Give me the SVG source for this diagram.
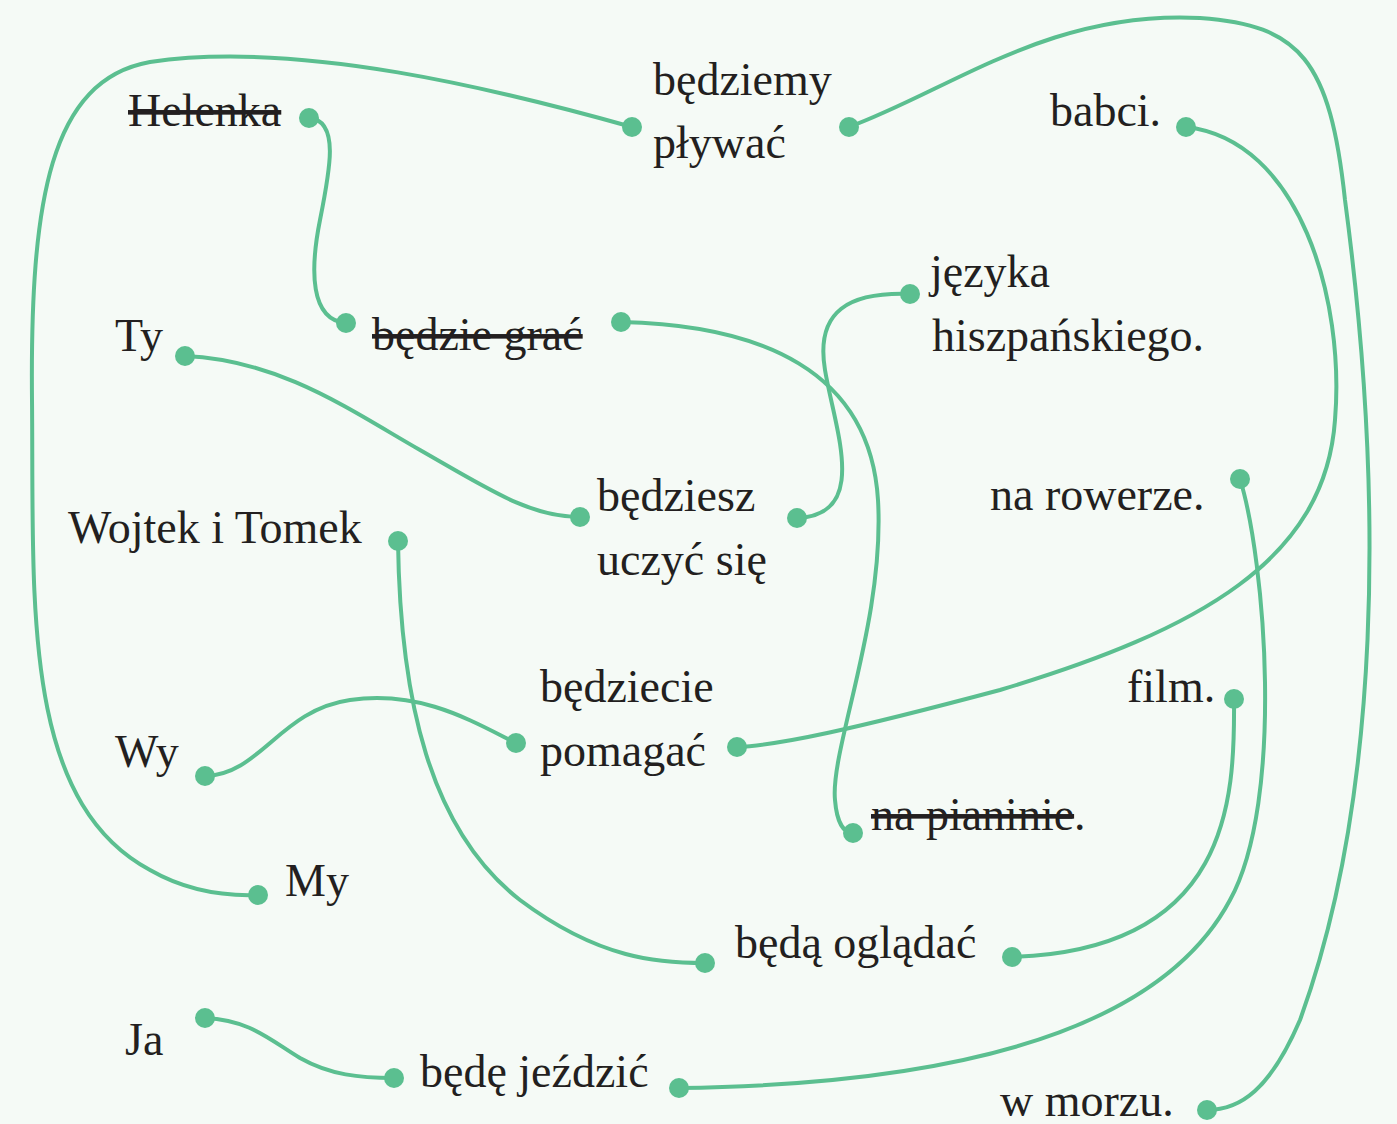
<svg xmlns="http://www.w3.org/2000/svg" width="1397" height="1124" viewBox="0 0 1397 1124">
<style>
text{font-family:"Liberation Serif","DejaVu Serif",serif;font-size:46px;fill:#231f20}
.s{text-decoration:line-through}
.c path{fill:none;stroke:#5bbf90;stroke-width:4;stroke-linecap:round}
.d{fill:#5bbf90}
</style>
<rect width="1397" height="1124" fill="#f5faf6"/>
<g class="c" id="connectors">
<path d="M309,118 C340,120 330,170 320,220 C310,270 310,320 346,323"/>
<path d="M632,127 C500,90 300,40 150,62 C50,80 30,200 32,400 C34,600 20,800 150,870 C190,893 230,896 258,895"/>
<path d="M849,127 C950,90 1050,10 1200,18 C1300,25 1330,60 1345,200 C1385,500 1380,800 1300,1020 C1270,1090 1240,1110 1207,1110"/>
<path d="M1186,127 C1300,140 1345,300 1335,420 C1325,560 1200,630 1000,690 C850,730 780,745 737,747"/>
<path d="M910,294 C850,292 815,310 825,370 C835,430 870,515 797,518"/>
<path d="M185,356 C280,360 350,410 420,450 C490,490 530,517 580,517"/>
<path d="M621,322 C760,325 870,370 878,500 C885,620 830,750 835,800 C837,825 845,833 853,833"/>
<path d="M398,541 C400,700 430,830 520,900 C600,960 660,963 705,963"/>
<path d="M205,776 C260,775 280,710 350,700 C420,690 470,720 516,743"/>
<path d="M1234,699 C1235,800 1230,950 1012,957"/>
<path d="M1240,479 C1265,560 1285,800 1230,900 C1150,1050 900,1085 679,1088"/>
<path d="M205,1018 C250,1020 270,1040 300,1058 C330,1075 360,1078 394,1078"/>
</g>
<g id="helenka"><text x="128" y="126" class="s">Helenka</text><circle class="d" cx="309" cy="118" r="10"/></g>
<g id="bedziemy"><text x="653" y="95">będziemy</text><text x="653" y="158">pływać</text><circle class="d" cx="632" cy="127" r="10"/><circle class="d" cx="849" cy="127" r="10"/></g>
<g id="babci"><text x="1050" y="126">babci.</text><circle class="d" cx="1186" cy="127" r="10"/></g>
<g id="jezyka"><text x="930" y="287">języka</text><text x="932" y="351">hiszpańskiego.</text><circle class="d" cx="910" cy="294" r="10"/></g>
<g id="ty"><text x="115" y="351">Ty</text><circle class="d" cx="185" cy="356" r="10"/></g>
<g id="bedziegrac"><text x="372" y="350" class="s">będzie grać</text><circle class="d" cx="346" cy="323" r="10"/><circle class="d" cx="621" cy="322" r="10"/></g>
<g id="bedziesz"><text x="597" y="511">będziesz</text><text x="597" y="575">uczyć się</text><circle class="d" cx="580" cy="517" r="10"/><circle class="d" cx="797" cy="518" r="10"/></g>
<g id="narowerze"><text x="990" y="510">na rowerze.</text><circle class="d" cx="1240" cy="479" r="10"/></g>
<g id="wojtek"><text x="68" y="543">Wojtek i Tomek</text><circle class="d" cx="398" cy="541" r="10"/></g>
<g id="bedziecie"><text x="540" y="702">będziecie</text><text x="540" y="766">pomagać</text><circle class="d" cx="516" cy="743" r="10"/><circle class="d" cx="737" cy="747" r="10"/></g>
<g id="film"><text x="1127" y="702">film.</text><circle class="d" cx="1234" cy="699" r="10"/></g>
<g id="wy"><text x="115" y="767">Wy</text><circle class="d" cx="205" cy="776" r="10"/></g>
<g id="napianinie"><text x="871" y="830"><tspan class="s">na pianinie</tspan>.</text><circle class="d" cx="853" cy="833" r="10"/></g>
<g id="my"><text x="285" y="896">My</text><circle class="d" cx="258" cy="895" r="10"/></g>
<g id="bedaogladac"><text x="735" y="958">będą oglądać</text><circle class="d" cx="705" cy="963" r="10"/><circle class="d" cx="1012" cy="957" r="10"/></g>
<g id="ja"><text x="125" y="1055">Ja</text><circle class="d" cx="205" cy="1018" r="10"/></g>
<g id="bedejezdzic"><text x="420" y="1087">będę jeździć</text><circle class="d" cx="394" cy="1078" r="10"/><circle class="d" cx="679" cy="1088" r="10"/></g>
<g id="wmorzu"><text x="1000" y="1116">w morzu.</text><circle class="d" cx="1207" cy="1110" r="10"/></g>
</svg>
